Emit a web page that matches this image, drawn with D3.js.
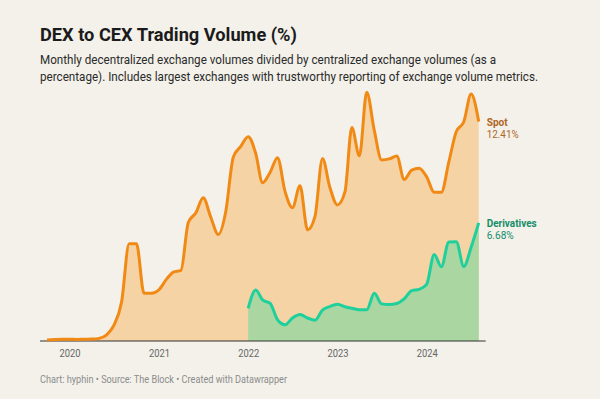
<!DOCTYPE html>
<html>
<head>
<meta charset="utf-8">
<script src="https://cdn.jsdelivr.net/npm/d3@7"></script>
<style>
	body{margin:0;background:#f3f1ea}
	svg text{font-family:Roboto, "Noto Sans", sans-serif}
</style>
</head>
<body>
<div id="chart"></div>
<script>

// monthly points, spot series runs the whole range
var months = [
	"2019-10","2019-11","2019-12",
	"2020-01","2020-02","2020-03","2020-04","2020-05","2020-06","2020-07","2020-08","2020-09","2020-10","2020-11","2020-12",
	"2021-01","2021-02","2021-03","2021-04","2021-05","2021-06","2021-07","2021-08","2021-09","2021-10","2021-11","2021-12",
	"2022-01","2022-02","2022-03","2022-04","2022-05","2022-06","2022-07","2022-08","2022-09","2022-10","2022-11","2022-12",
	"2023-01","2023-02","2023-03","2023-04","2023-05","2023-06","2023-07","2023-08","2023-09","2023-10","2023-11","2023-12",
	"2024-01","2024-02","2024-03","2024-04","2024-05","2024-06","2024-07","2024-08"
]

// DEX/CEX spot volume (%)
var spotValues = [
	0.05,0.08,0.1,
	0.1,0.09,0.1,0.11,0.15,0.35,0.9,2.2,5.5,5.5,2.7,2.7,
	2.9,3.5,3.9,4.0,6.7,7.25,8.1,7.0,6.03,7.3,10.4,11.0,
	11.56,10.6,8.95,9.55,10.37,8.45,7.54,8.78,6.28,7.03,10.33,8.7,
	7.7,8.45,12.07,10.48,14.07,11.9,10.24,10.3,10.46,9.14,9.67,9.77,
	9.29,8.41,8.41,10.14,11.84,12.4,13.97,12.41
]

// DEX/CEX derivatives volume (%), starts in 2022
var derivStart = "2022-01"
var derivValues = [
	1.85,2.88,2.32,2.13,1.2,0.92,1.3,1.5,1.3,1.17,1.75,1.95,
	2.08,1.94,1.85,1.77,1.77,2.7,2.1,2.06,2.12,2.38,2.85,2.92,
	3.2,4.9,4.2,5.6,5.62,4.22,5.3,6.68
]

var yearTicks = ["2020","2021","2022","2023","2024"]
var seriesNames = ["Spot","Derivatives"]

var width = 600, height = 399
var parseMonth = d3.timeParse("%Y-%m")
var parseYear = d3.timeParse("%Y")

var spot = months.map(function(m,i){ return {date:parseMonth(m), value:spotValues[i]} })
var d0 = months.indexOf(derivStart)
var deriv = derivValues.map(function(v,i){ return {date:parseMonth(months[d0+i]), value:v} })

var svg = d3.select("#chart").append("svg")
	.attr("width", width)
	.attr("height", height)

svg.append("rect")
	.attr("width", width)
	.attr("height", height)
	.attr("fill", "#f3f1ea")

// header + footer, widths fitted to the picture
function label(str, px, py, size, weight, color, len){
	var t = svg.append("text")
		.attr("x", px)
		.attr("y", py)
		.attr("font-size", size)
		.attr("font-weight", weight)
		.attr("fill", color)
		.text(str)
	if(len) t.attr("textLength", len).attr("lengthAdjust", "spacingAndGlyphs")
	return t
}

label("DEX to CEX Trading Volume (%)", 40, 40.5, 19, 700, "#1b1b1b", 257)
label("Monthly decentralized exchange volumes divided by centralized exchange volumes (as a", 40, 63.7, 12.8, 400, "#2b2b2b", 456)
label("percentage). Includes largest exchanges with trustworthy reporting of exchange volume metrics.", 40, 81.2, 12.8, 400, "#2b2b2b", 498)
label("Chart: hyphin \u2022 Source: The Block \u2022 Created with Datawrapper", 40, 383.3, 11, 400, "#8c8c8c", 247)

// scales
var x = d3.scaleTime()
	.domain([spot[0].date, spot[spot.length-1].date])
	.range([47, 478.7])

var y = d3.scaleLinear()
	.domain([0, 14])
	.range([341, 93.5])

var area = d3.area()
	.x(function(d){ return x(d.date) })
	.y0(y(0))
	.y1(function(d){ return y(d.value) })
	.curve(d3.curveMonotoneX)

var line = d3.line()
	.x(function(d){ return x(d.date) })
	.y(function(d){ return y(d.value) })
	.curve(d3.curveMonotoneX)

svg.append("path").datum(spot).attr("d", area).attr("fill", "#f6d3a4")
svg.append("path").datum(deriv).attr("d", area).attr("fill", "#a9d6a1")

// x axis: labels only, baseline drawn by hand
var xAxis = d3.axisBottom(x)
	.tickValues(yearTicks.map(function(d){ return parseYear(d) }))
	.tickFormat(d3.timeFormat("%Y"))
	.tickSize(0)
	.tickPadding(8)

var gx = svg.append("g")
	.attr("transform", "translate(0," + y(0) + ")")
	.call(xAxis)
gx.select(".domain").remove()
gx.selectAll("text")
	.attr("font-family", "Roboto, sans-serif")
	.attr("font-size", 11)
	.attr("fill", "#666")
	.attr("textLength", 21)
	.attr("lengthAdjust", "spacingAndGlyphs")

svg.append("line")
	.attr("x1", x(spot[0].date) - 7)
	.attr("x2", x(spot[spot.length-1].date) + 7)
	.attr("y1", y(0))
	.attr("y2", y(0))
	.attr("stroke", "#333")
	.attr("stroke-width", 1)

svg.append("path").datum(spot)
	.attr("d", line)
	.attr("fill", "none")
	.attr("stroke", "#f08a15")
	.attr("stroke-width", 3)
	.attr("stroke-linejoin", "round")

svg.append("path").datum(deriv)
	.attr("d", line)
	.attr("fill", "none")
	.attr("stroke", "#1fd09c")
	.attr("stroke-width", 3)
	.attr("stroke-linejoin", "round")

// end labels next to last points
var ends = [
	{name:seriesNames[0], last:spot[spot.length-1], color:"#b0661f", w1:21, w2:32},
	{name:seriesNames[1], last:deriv[deriv.length-1], color:"#168d69", w1:50, w2:27}
]
ends.forEach(function(e){
	var lx = x(e.last.date) + 8
	var ly = y(e.last.value)
	label(e.name, lx, ly + 4.5, 10, 700, e.color, e.w1)
	label(d3.format(".2f")(e.last.value) + "%", lx, ly + 16.5, 10, 400, e.color, e.w2)
})

</script>
</body>
</html>
